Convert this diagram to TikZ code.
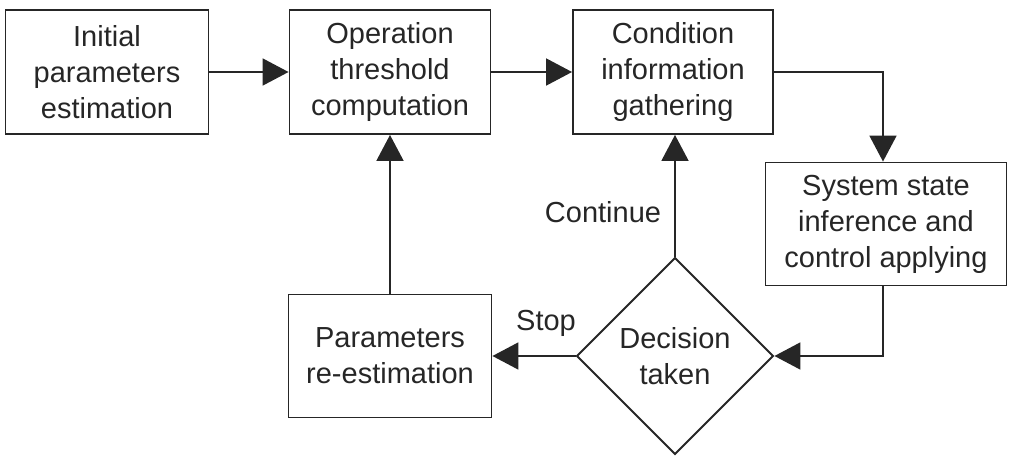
\documentclass[tikz,border=0pt]{standalone}
\usepackage{fontspec}
\setmainfont{Liberation Sans}
\usetikzlibrary{arrows.meta,shapes.geometric}
\begin{document}
\begin{tikzpicture}[x=0.02cm,y=-0.02cm,
  every node/.style={font=\fontsize{16.5}{20.5}\selectfont, align=center, text=black!85},
  boxnode/.style={draw=black!85, line width=1.1pt, rectangle, inner sep=0pt},
  dia/.style={draw=black!85, line width=1.1pt, diamond, inner sep=0pt, minimum width=3.94cm, minimum height=3.94cm},
  arr/.style={line width=1.1pt, draw=black!85, -{Triangle[length=0.52cm,width=0.54cm]}},
  lbl/.style={font=\fontsize{16.5}{20.5}\selectfont}]
\useasboundingbox (0,0) rectangle (1012,457);
\node[boxnode, minimum width=4.06cm, minimum height=2.48cm] (b1) at (107,72) {Initial\\parameters\\estimation};
\node[boxnode, minimum width=4.02cm, minimum height=2.48cm] (b2) at (390,72) {Operation\\threshold\\computation};
\node[boxnode, minimum width=4.0cm, minimum height=2.48cm] (b3) at (673,72) {Condition\\information\\gathering};
\node[boxnode, minimum width=4.82cm, minimum height=2.46cm] (b4) at (886,224) {System state\\inference and\\control applying};
\node[boxnode, minimum width=4.06cm, minimum height=2.46cm] (b5) at (390,356) {Parameters\\re-estimation};
\node[dia] (d) at (675,356) {Decision\\taken};
\coordinate (c1) at (883,72);
\coordinate (c2) at (883,356);
\draw[arr] (b1.east) -- (b2.west);
\draw[arr] (b2.east) -- (b3.west);
\draw[arr] (b3.east) -- (c1) -- (b4.north -| c1);
\draw[arr] (b4.south -| c2) -- (c2) -- (d.east);
\draw[arr] (d.north) -- (d.north |- b3.south);
\draw[arr] (d.west) -- (b5.east);
\draw[arr] (b5.north) -- (b2.south);
\node[lbl] (lc) at (603,212) {Continue};
\node[lbl] (ls) at (546,323) {Stop};
\end{tikzpicture}
\end{document}
